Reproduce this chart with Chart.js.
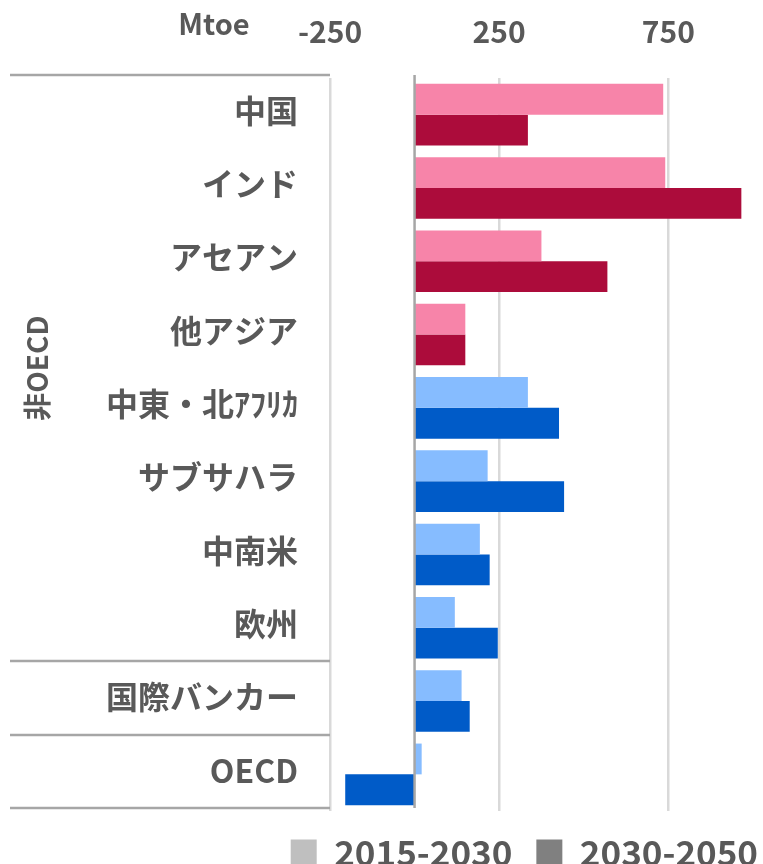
<!DOCTYPE html>
<html>
<head>
<meta charset="utf-8">
<script src="https://cdn.jsdelivr.net/npm/chart.js@4"></script>
<style>
  html, body { margin: 0; padding: 0; background: #ffffff; overflow: hidden; }
  #wrap { width: 763px; height: 864px; }
</style>
</head>
<body>
<div id="wrap"><canvas id="chart" width="763" height="864"></canvas></div>
<script>
// Regions, listed top to bottom
const regions = ['中国', 'インド', 'アセアン', '他アジア', '中東・北ｱﾌﾘｶ', 'サブサハラ', '中南米', '欧州', '国際バンカー', 'OECD'];
// Change in energy demand per period (Mtoe)
const growth2015to2030 = [735, 741, 375, 150, 335, 216, 193, 119, 139, 21];
const growth2030to2050 = [335, 966, 570, 150, 427, 442, 222, 246, 163, -205];
const periodLabels = ['2015-2030', '2030-2050'];
const xTickValues = [-250, 250, 750];
const unitLabel = 'Mtoe';
const groupLabel = '非OECD';
const asiaCount = 4;          // the first four regions use the Asian palette
const nonOecdCount = 8;       // regions grouped under the 非OECD label

const FONT = "'Noto Sans CJK JP', 'Noto Sans', sans-serif";
const TEXT = '#595959';
const lightColors = regions.map((_, i) => i < asiaCount ? '#F784A9' : '#86BCFF');
const darkColors  = regions.map((_, i) => i < asiaCount ? '#AC0C3B' : '#005BC8');
const legendGrays = ['#BFBFBF', '#808080'];

// Left-hand table lines, group label, unit label and zero line
const decorations = {
  id: 'decorations',
  afterDatasetsDraw(chart) {
    const { ctx, chartArea, scales: { x, y } } = chart;
    ctx.save();
    // zero line
    const x0 = x.getPixelForValue(0);
    ctx.strokeStyle = '#A6A6A6';
    ctx.lineWidth = 2.5;
    ctx.beginPath();
    ctx.moveTo(x0, chartArea.top - 3);
    ctx.lineTo(x0, chartArea.bottom - 3);
    ctx.stroke();

    // table separators
    const bounds = [-0.5, nonOecdCount - 0.5, nonOecdCount + 0.5, regions.length - 0.5];
    ctx.strokeStyle = '#A6A6A6';
    ctx.lineWidth = 2.5;
    bounds.forEach(b => {
      const py = Math.round(y.getPixelForValue(b)) - 3;
      ctx.beginPath();
      ctx.moveTo(10, py);
      ctx.lineTo(chartArea.left, py);
      ctx.stroke();
    });

    // group label, rotated
    const gMid = (y.getPixelForValue(-0.5) + y.getPixelForValue(nonOecdCount - 0.5)) / 2;
    ctx.fillStyle = TEXT;
    ctx.font = `bold 28px ${FONT}`;
    ctx.translate(37, gMid - 3);
    ctx.rotate(-Math.PI / 2);
    ctx.textAlign = 'center';
    ctx.textBaseline = 'middle';
    ctx.fillText(groupLabel, 0, 0);
    ctx.restore();

    // unit label
    ctx.save();
    ctx.fillStyle = TEXT;
    ctx.font = `bold 29px ${FONT}`;
    ctx.textAlign = 'center';
    ctx.textBaseline = 'middle';
    ctx.fillText(unitLabel, 214, 24);
    ctx.restore();
  }
};

new Chart(document.getElementById('chart'), {
  type: 'bar',
  data: {
    labels: regions,
    datasets: [
      { label: periodLabels[0], data: growth2015to2030, backgroundColor: lightColors, borderWidth: 0 },
      { label: periodLabels[1], data: growth2030to2050, backgroundColor: darkColors, borderWidth: 0 }
    ]
  },
  options: {
    indexAxis: 'y',
    responsive: false,
    animation: false,
    devicePixelRatio: 1,
    categoryPercentage: 0.84,
    barPercentage: 1,
    layout: { padding: { left: 0, right: -19, top: 0, bottom: -16 } },
    scales: {
      x: {
        position: 'top',
        min: -250,
        max: 1030,
        afterFit: s => { s.height = 78; },
        afterBuildTicks: s => { s.ticks = xTickValues.map(v => ({ value: v })); },
        grid: { color: '#D9D9D9', lineWidth: 2.5, drawTicks: false },
        border: { display: false },
        ticks: {
          padding: 28,
          color: TEXT,
          font: { family: FONT, size: 30, weight: 'bold' }
        }
      },
      y: {
        afterFit: s => { s.width = 330; },
        grid: { display: false, drawTicks: false },
        border: { display: false },
        ticks: {
          padding: 32,
          labelOffset: -4,
          color: TEXT,
          font: { family: FONT, size: 32, weight: 'bold' }
        }
      }
    },
    plugins: {
      tooltip: { enabled: false },
      legend: {
        position: 'bottom',
        align: 'end',
        labels: {
          boxWidth: 26,
          boxHeight: 26,
          padding: 24,
          color: TEXT,
          font: { family: FONT, size: 35, weight: 'bold', lineHeight: 0.886 },
          generateLabels: () => periodLabels.map((t, i) => ({
            text: t,
            fillStyle: legendGrays[i],
            strokeStyle: legendGrays[i],
            lineWidth: 0,
            hidden: false,
            datasetIndex: i,
            fontColor: TEXT
          }))
        }
      }
    }
  },
  plugins: [decorations]
});
</script>
</body>
</html>
